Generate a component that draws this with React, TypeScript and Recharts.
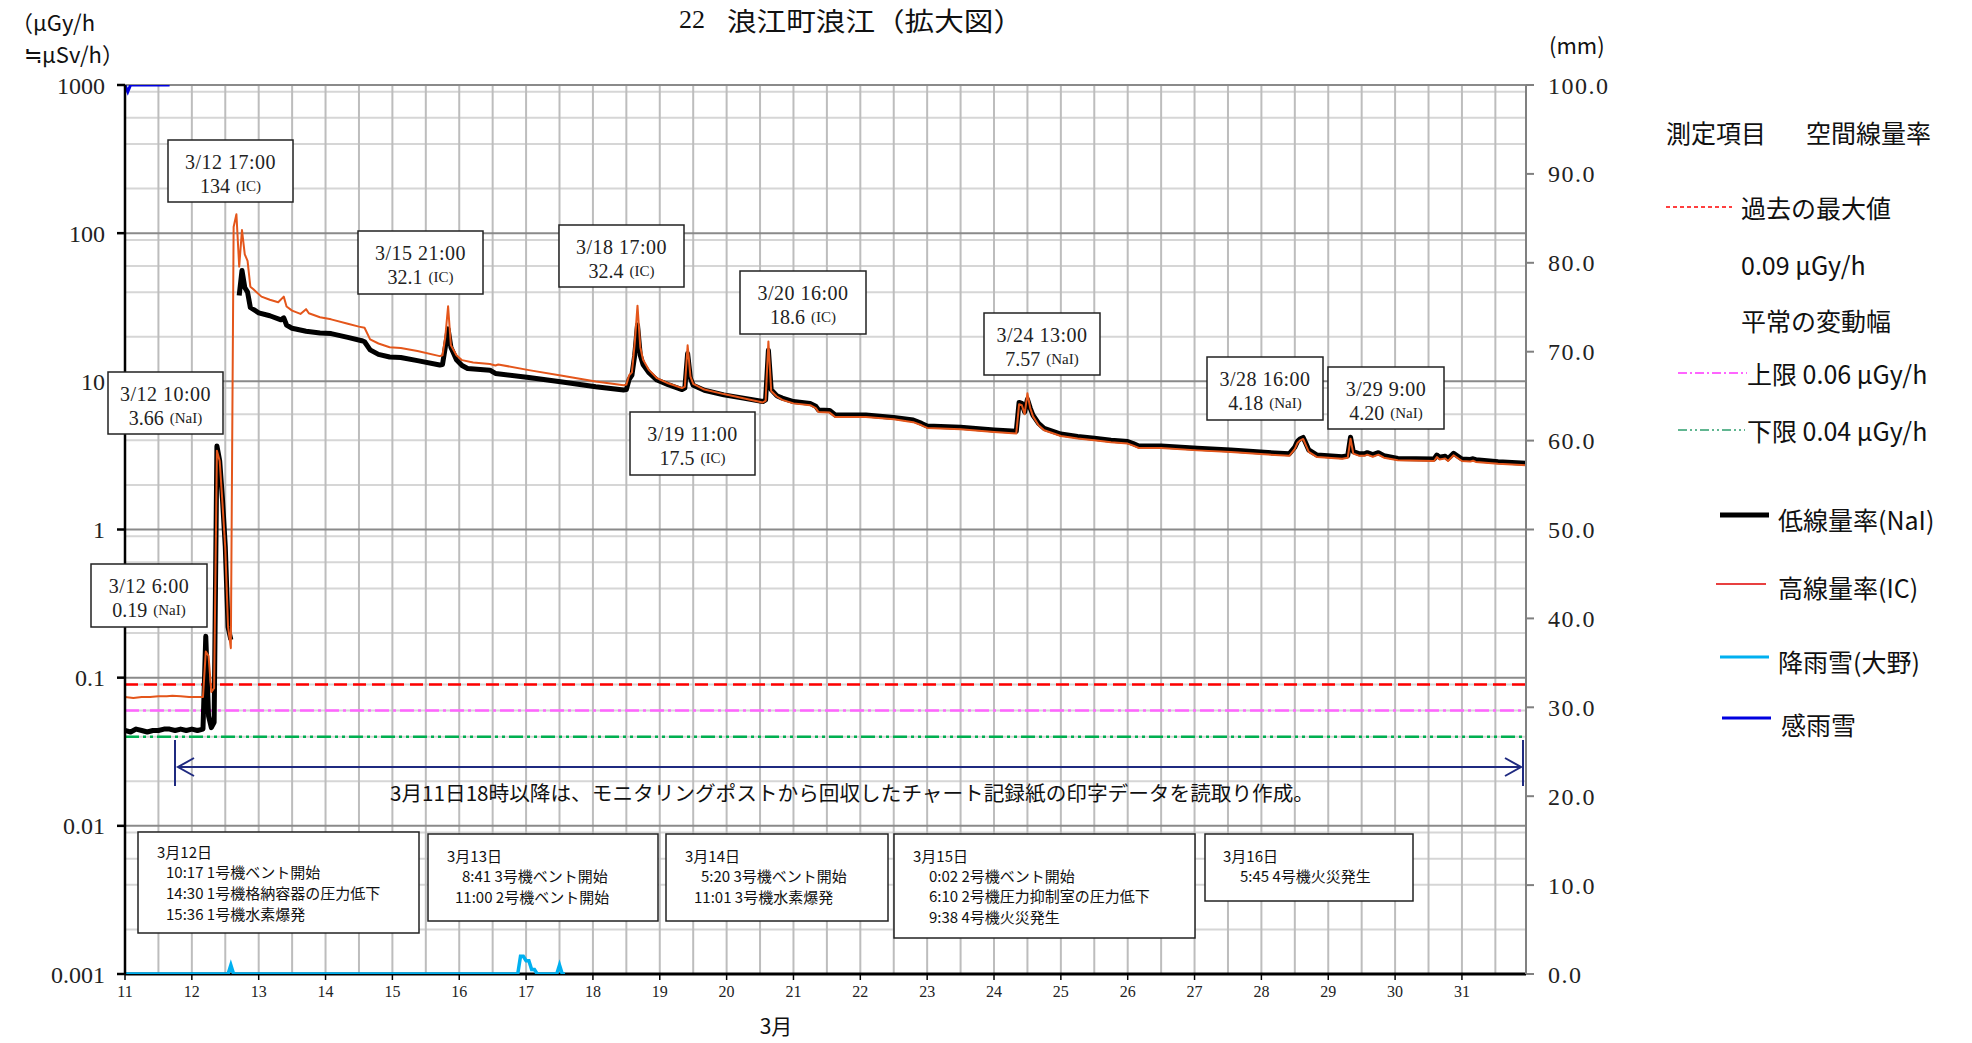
import React from 'react';
import { ComposedChart, Line, XAxis, YAxis, ReferenceLine, CartesianGrid } from 'recharts';

// x = hourly record index (0 = 3/11 1:00, 24 records per day)
type P = [number, number | null];

const dayLabels = ['11','12','13','14','15','16','17','18','19','20','21','22','23','24','25','26','27','28','29','30','31'];
const leftTickValues = [0.001, 0.01, 0.1, 1, 10, 100, 1000];
const leftTickLabels = ['0.001', '0.01', '0.1', '1', '10', '100', '1000'];
const rightTickValues = [0, 10, 20, 30, 40, 50, 60, 70, 80, 90, 100];

// 低線量率(NaI)  μGy/h
const naiData: P[] = [
  [0,0.044],[2,0.043],[4,0.045],[6,0.044],[8,0.043],[10,0.044],[12,0.044],[14,0.045],[16,0.045],[18,0.044],
  [20,0.045],[22,0.044],[24,0.045],[26,0.044],[28,0.045],[29,0.19],[30,0.055],[31,0.046],[32,0.05],[33,3.66],
  [34,2.9],[35,1.6],[36,0.77],[37,0.22],[38,0.18],[39,null],[40,null],[41,38],[42,56],[43,43],[44,40],[45,31.5],
  [48,29],[52,27.7],[56,26],[57,26.8],[58,24],[60,22.8],[65,21.8],[70,21.2],[74,21],[80,19.8],[85,18.8],[86,18.5],
  [88,16.3],[91,15.2],[95,14.6],[99,14.5],[105,13.8],[113,12.9],[114,13],[115,17],[116,22.6],[117,17],[119,14],
  [121,12.8],[123,12.2],[131,11.9],[133,11.3],[145,10.6],[157,9.9],[169,9.2],[179,8.75],[180,8.8],[181,10.3],
  [182,11],[183,15],[184,24],[185,15],[186,13],[188,11.5],[191,10.2],[195,9.5],[200,8.8],[201,9],[202,15.4],
  [203,10.5],[204,9.4],[208,8.7],[215,8.1],[222,7.7],[229,7.3],[230,7.5],[231,16.2],[232,8.8],[234,8.0],[236,7.7],
  [240,7.3],[246,7.1],[248,6.8],[249,6.4],[253,6.36],[255,5.93],[266,5.93],[276,5.71],[283,5.48],[286,5.2],
  [288,5.0],[300,4.9],[312,4.7],[320,4.6],[321,7.2],[322,7.1],[323,6.2],[324,7.57],[325,6.6],[326,5.9],[328,5.2],
  [330,4.82],[336,4.41],[342,4.25],[348,4.13],[354,4.0],[360,3.92],[362,3.8],[364,3.66],[372,3.66],[385,3.53],
  [397,3.44],[409,3.32],[418,3.24],[420,3.6],[421,3.95],[422,4.1],[423,4.18],[424,3.8],[425,3.44],[428,3.18],
  [437,3.1],[439,3.15],[440,4.2],[441,3.35],[443,3.25],[445,3.24],[446,3.3],[448,3.2],[450,3.3],[452,3.15],
  [457,3.02],[470,2.99],[471,3.18],[472,3.07],[474,3.12],[475,3.0],[477,3.27],[480,2.99],[483,2.97],[484,3.0],
  [485,2.96],[493,2.87],[503,2.8],
];

// 高線量率(IC)  μGy/h
const icData: P[] = [
  [0,0.074],[3,0.073],[6,0.074],[9,0.074],[12,0.075],[15,0.075],[17,0.0755],[20,0.075],[23,0.074],[26,0.074],
  [28,0.074],[29,0.15],[30,0.14],[31,0.08],[32,0.085],[33,3.4],[34,2.9],[35,1.5],[36,0.75],[37,0.22],[38,0.158],
  [39,110],[40,134],[41,59.5],[42,105],[43,72],[44,65],[45,43.5],[46,42],[49,37.3],[52,35.5],[55,34.2],[57,37.3],
  [58,32],[60,30],[63,28.5],[65,30.7],[66,28.8],[70,27.1],[74,26.2],[80,24.5],[84,23.4],[86,23],[88,19.2],[91,18],
  [95,17],[99,16.8],[105,16],[113,14.8],[114,15],[115,20],[116,32.1],[117,17.5],[119,15],[121,13.9],[125,13.4],
  [131,13.1],[133,12.8],[134,13],[145,11.9],[157,10.9],[169,9.96],[179,9.4],[180,9.5],[181,11],[182,11.5],[183,18],
  [184,32.4],[185,17],[186,14],[188,12],[191,10.5],[195,9.7],[200,9.0],[201,9.2],[202,17.5],[203,10.8],[204,9.6],
  [208,8.8],[215,8.2],[222,7.7],[229,7.2],[230,7.4],[231,18.6],[232,8.6],[234,7.9],[236,7.5],[240,7.1],[246,6.9],
  [248,6.6],[249,6.2],[253,6.15],[255,5.75],[266,5.75],[276,5.55],[283,5.3],[286,5.05],[288,4.85],[300,4.75],
  [312,4.55],[320,4.45],[321,7.0],[322,6.9],[323,6.0],[324,8.3],[325,6.6],[326,5.8],[328,5.05],[330,4.68],
  [336,4.28],[342,4.12],[348,4.0],[354,3.88],[360,3.8],[362,3.68],[364,3.55],[372,3.55],[385,3.42],[397,3.33],
  [409,3.22],[418,3.14],[420,3.5],[421,3.85],[422,4.0],[423,4.08],[424,3.7],[425,3.34],[428,3.08],[437,3.0],
  [439,3.05],[440,4.1],[441,3.25],[443,3.15],[445,3.14],[446,3.2],[448,3.1],[450,3.2],[452,3.05],[457,2.93],
  [470,2.9],[471,3.08],[472,2.97],[474,3.02],[475,2.9],[477,3.17],[480,2.9],[483,2.88],[484,2.91],[485,2.86],
  [493,2.78],[503,2.71],
];

// 降雨雪(大野)  mm
const rainData: P[] = [
  [0,0],[37,0],[38,1.0],[39,0],[141,0],[142,2.0],[143,2.0],[144,1.5],[145,1.5],[146,0.5],[147,0.5],[148,0],
  [155,0],[156,1.0],[157,0],[158,0],
];

// 感雨雪 (on = top of scale)
const senseData: P[] = [[0,1000],[1,900],[2,1000],[16,1000]];

// thresholds μGy/h
const pastMax = 0.09;
const normalUpper = 0.06;
const normalLower = 0.04;

// text content
const titleNum = '22';
const titleText = '浪江町浪江（拡大図）';
const leftUnit = ['（μGy/h', '≒μSv/h）'];
const rightUnit = '(mm)';
const xTitle = '3月';
const legendHeader = ['測定項目', '空間線量率'];
const legendMax = ['過去の最大値', '0.09 μGy/h'];
const legendRange = '平常の変動幅';
const legendUpper = '上限 0.06 μGy/h';
const legendLower = '下限 0.04 μGy/h';
const seriesNames = ['低線量率(NaI)', '高線量率(IC)', '降雨雪(大野)', '感雨雪'];
const noteText = '3月11日18時以降は、モニタリングポストから回収したチャート記録紙の印字データを読取り作成。';

const peakTimes = ['3/12 17:00','3/12 10:00','3/12 6:00','3/15 21:00','3/18 17:00','3/19 11:00','3/20 16:00','3/24 13:00','3/28 16:00','3/29 9:00'];
const peakValues = ['134','3.66','0.19','32.1','32.4','17.5','18.6','7.57','4.18','4.20'];
const peakDetectors = ['(IC)','(NaI)','(NaI)','(IC)','(IC)','(IC)','(IC)','(NaI)','(NaI)','(NaI)'];

const eventTitles = ['3月12日','3月13日','3月14日','3月15日','3月16日'];
const eventLines = [
  ['10:17 1号機ベント開始','14:30 1号機格納容器の圧力低下','15:36 1号機水素爆発'],
  ['8:41 3号機ベント開始','11:00 2号機ベント開始'],
  ['5:20 3号機ベント開始','11:01 3号機水素爆発'],
  ['0:02 2号機ベント開始','6:10 2号機圧力抑制室の圧力低下','9:38 4号機火災発生'],
  ['5:45 4号機火災発生'],
];

// ---------- layout ----------
const W = 1972;
const H = 1043;
const FONT_JP = "'Noto Sans CJK JP', 'Noto Sans', sans-serif";
const FONT_NUM = "'Liberation Serif', 'DejaVu Serif', serif";

const peakBoxes = [
  [168,140,125,62],[108,372,115,62],[91,564,116,63],[358,231,125,63],[559,225,125,62],
  [630,412,125,63],[740,271,126,63],[984,313,116,62],[1207,357,116,63],[1328,367,116,62],
];
const eventBoxes = [
  { box: [138,832,281,101], title: [157,851], lines: [[166,871],[166,892],[166,913]] },
  { box: [428,834,230,87], title: [447,855], lines: [[462,875],[455,896]] },
  { box: [666,834,222,87], title: [685,855], lines: [[701,875],[694,896]] },
  { box: [894,834,301,104], title: [913,855], lines: [[929,875],[929,895],[929,916]] },
  { box: [1205,834,208,67], title: [1223,855], lines: [[1240,875]] },
];

const toObj = (arr: P[]) => arr.map(([i, v]) => ({ i, v }));
const dayTicks = dayLabels.map((_, k) => k * 24);
const halfDayGrid: number[] = [];
for (let k = 0; k <= 41; k++) halfDayGrid.push(k * 12);
const majorY = leftTickValues.slice(1);
const minorY: number[] = [];
for (let e = -3; e < 3; e++) for (let m = 2; m <= 9; m++) minorY.push(m * Math.pow(10, e));

function Overlay() {
  const t = { fontFamily: FONT_JP, fill: '#111', dominantBaseline: 'central' as const };
  return (
    <svg width={W} height={H} style={{ position: 'absolute', left: 0, top: 0, pointerEvents: 'none' }}>
      {/* title */}
      <text x={679} y={19} fontSize={26} {...t} fontFamily={FONT_NUM}>{titleNum}</text>
      <text x={727} y={19} fontSize={26} {...t} textLength={296} lengthAdjust="spacingAndGlyphs">{titleText}</text>
      {/* units */}
      <text x={11} y={21} fontSize={22} {...t}>{leftUnit[0]}</text>
      <text x={24} y={53} fontSize={22} {...t}>{leftUnit[1]}</text>
      <text x={1549} y={44} fontSize={22} {...t}>{rightUnit}</text>
      <text x={776} y={1025} fontSize={21} {...t} textAnchor="middle">{xTitle}</text>

      {/* legend */}
      <text x={1666} y={132} fontSize={25} {...t}>{legendHeader[0]}</text>
      <text x={1806} y={132} fontSize={25} {...t}>{legendHeader[1]}</text>
      <line x1={1666} x2={1732} y1={207} y2={207} stroke="#FF0000" strokeWidth={1.5} strokeDasharray="4 3" />
      <text x={1741} y={207} fontSize={25} {...t}>{legendMax[0]}</text>
      <text x={1741} y={264} fontSize={25} {...t}>{legendMax[1]}</text>
      <text x={1741} y={320} fontSize={25} {...t}>{legendRange}</text>
      <line x1={1678} x2={1747} y1={373} y2={373} stroke="#FF33FF" strokeWidth={1.5} strokeDasharray="9 3 2 3" />
      <text x={1747} y={373} fontSize={25} {...t}>{legendUpper}</text>
      <line x1={1678} x2={1745} y1={430} y2={430} stroke="#2E9E6E" strokeWidth={1.5} strokeDasharray="9 3 2 3 2 3" />
      <text x={1747} y={430} fontSize={25} {...t}>{legendLower}</text>
      <line x1={1720} x2={1769} y1={515} y2={515} stroke="#000" strokeWidth={5} />
      <text x={1778} y={519} fontSize={25} {...t}>{seriesNames[0]}</text>
      <line x1={1716} x2={1766} y1={584} y2={584} stroke="#E00000" strokeWidth={1.5} />
      <text x={1778} y={587} fontSize={25} {...t}>{seriesNames[1]}</text>
      <line x1={1720} x2={1769} y1={657} y2={657} stroke="#00B0F0" strokeWidth={3} />
      <text x={1778} y={661} fontSize={25} {...t}>{seriesNames[2]}</text>
      <line x1={1722} x2={1771} y1={718} y2={718} stroke="#0000E0" strokeWidth={3} />
      <text x={1781} y={724} fontSize={25} {...t}>{seriesNames[3]}</text>

      {/* arrow + note */}
      <g stroke="#1F2A80" strokeWidth={2} fill="none">
        <line x1={175} x2={175} y1={740} y2={786} />
        <line x1={1523} x2={1523} y1={740} y2={786} />
        <line x1={178} x2={1521} y1={767} y2={767} />
        <polyline points="194,758 178,767 194,776" />
        <polyline points="1505,758 1521,767 1505,776" />
      </g>
      <text x={390} y={792} fontSize={20} {...t} textLength={924} lengthAdjust="spacingAndGlyphs">{noteText}</text>

      {/* peak boxes */}
      {peakBoxes.map(([x, y, w, h], k) => (
        <g key={'pb' + k}>
          <rect x={x} y={y} width={w} height={h} fill="#fff" stroke="#222" strokeWidth={1.5} />
          <text x={x + w / 2} y={y + 22} fontSize={20} textAnchor="middle" fontFamily={FONT_NUM} fill="#222" dominantBaseline="central" letterSpacing={0.5}>{peakTimes[k]}</text>
          <text x={x + w / 2} y={y + 46} fontSize={20} textAnchor="middle" fontFamily={FONT_NUM} fill="#222" dominantBaseline="central">
            {peakValues[k]}
            <tspan fontSize={15} dx={6}>{peakDetectors[k]}</tspan>
          </text>
        </g>
      ))}

      {/* event boxes */}
      {eventBoxes.map((eb, k) => (
        <g key={'eb' + k}>
          <rect x={eb.box[0]} y={eb.box[1]} width={eb.box[2]} height={eb.box[3]} fill="#fff" stroke="#222" strokeWidth={1.5} />
          <text x={eb.title[0]} y={eb.title[1]} fontSize={15} {...t}>{eventTitles[k]}</text>
          {eb.lines.map(([lx, ly], j) => (
            <text key={j} x={lx} y={ly} fontSize={15} {...t}>{eventLines[k][j]}</text>
          ))}
        </g>
      ))}
    </svg>
  );
}

export default function App() {
  return (
    <div style={{ position: 'absolute', left: 0, top: 0, width: W, height: H, background: '#fff' }}>
      <ComposedChart width={W} height={H} margin={{ top: 85, right: 346, bottom: 39, left: 25 }}>
        <CartesianGrid xAxisId="x" yAxisId="left" vertical={false} horizontalValues={minorY} stroke="#D6D6D6" strokeWidth={2} />
        <CartesianGrid xAxisId="x" yAxisId="left" horizontal={false} verticalValues={halfDayGrid} stroke="#BDBDBD" strokeWidth={2} />
        <CartesianGrid xAxisId="x" yAxisId="left" vertical={false} horizontalValues={majorY} stroke="#8A8A8A" strokeWidth={2} />
        <CartesianGrid xAxisId="x" yAxisId="left" vertical={false} horizontalValues={[0.001]} stroke="#000" strokeWidth={3} />
        <XAxis
          xAxisId="x"
          type="number"
          dataKey="i"
          domain={[0, 503]}
          allowDataOverflow
          ticks={dayTicks}
          tickFormatter={(v: number) => dayLabels[Math.round(v / 24)]}
          height={30}
          tickSize={6}
          tickMargin={6}
          axisLine={false}
          tickLine={{ stroke: '#000', strokeWidth: 1.5 }}
          tick={{ fontFamily: FONT_NUM, fontSize: 16, fill: '#222' }}
        />
        <YAxis
          yAxisId="left"
          type="number"
          scale="log"
          domain={[0.001, 1000]}
          allowDataOverflow
          ticks={leftTickValues}
          tickFormatter={(v: number) => leftTickLabels[leftTickValues.indexOf(v)] ?? String(v)}
          width={100}
          tickSize={8}
          tickMargin={12}
          axisLine={{ stroke: '#000', strokeWidth: 2.5 }}
          tickLine={{ stroke: '#000', strokeWidth: 2.5 }}
          tick={{ fontFamily: FONT_NUM, fontSize: 24, fill: '#222' }}
        />
        <YAxis
          yAxisId="right"
          orientation="right"
          type="number"
          domain={[0, 100]}
          allowDataOverflow
          ticks={rightTickValues}
          tickFormatter={(v: number) => v.toFixed(1)}
          width={100}
          tickSize={8}
          tickMargin={14}
          axisLine={{ stroke: '#808080', strokeWidth: 2 }}
          tickLine={{ stroke: '#808080', strokeWidth: 2 }}
          tick={{ fontFamily: FONT_NUM, fontSize: 24, fill: '#222', letterSpacing: 1.5 }}
        />
        <ReferenceLine xAxisId="x" yAxisId="left" y={pastMax} stroke="#FF0000" strokeWidth={2.5} strokeDasharray="13 6" />
        <ReferenceLine xAxisId="x" yAxisId="left" y={normalUpper} stroke="#FF66FF" strokeWidth={2.5} strokeDasharray="14 4 3 4" />
        <ReferenceLine xAxisId="x" yAxisId="left" y={normalLower} stroke="#00B050" strokeWidth={2.5} strokeDasharray="14 4 3 4 3 4" />
        <Line xAxisId="x" yAxisId="left" data={toObj(naiData)} dataKey="v" stroke="#000" strokeWidth={5} dot={false} activeDot={false} isAnimationActive={false} strokeLinejoin="round" />
        <Line xAxisId="x" yAxisId="left" data={toObj(icData)} dataKey="v" stroke="#E4561B" strokeWidth={2} dot={false} activeDot={false} isAnimationActive={false} strokeLinejoin="round" />
        <Line xAxisId="x" yAxisId="right" data={toObj(rainData)} dataKey="v" stroke="#00B0F0" strokeWidth={3.5} dot={false} activeDot={false} isAnimationActive={false} />
        <Line xAxisId="x" yAxisId="left" data={toObj(senseData)} dataKey="v" stroke="#0000E0" strokeWidth={3} dot={false} activeDot={false} isAnimationActive={false} />
      </ComposedChart>
      <Overlay />
    </div>
  );
}
